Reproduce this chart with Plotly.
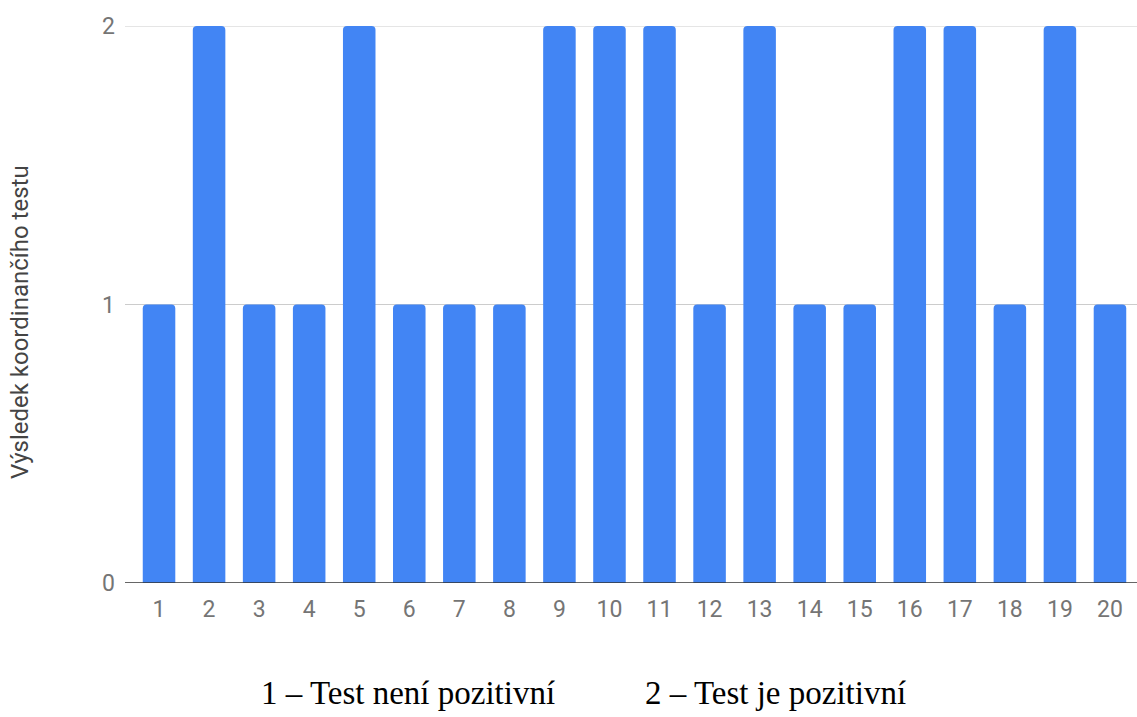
import plotly.graph_objects as go

# Participants and their coordination test result (1 = negative, 2 = positive)
participants = [str(i) for i in range(1, 21)]
results = [1, 2, 1, 1, 2, 1, 1, 1, 2, 2, 2, 1, 2, 1, 1, 2, 2, 1, 2, 1]
y_ticks = [0, 1, 2]
y_title = "Výsledek koordinančího testu"
legend_texts = ["1 – Test není pozitivní", "2 – Test je pozitivní"]

W, H = 1137, 717
ML, MR, MT, MB = 134, 2, 26, 134
plot_w = W - ML - MR
plot_h = H - MT - MB

fig = go.Figure(
    go.Bar(
        x=participants,
        y=results,
        marker=dict(color="#4285F4", line=dict(width=0)),
        hoverinfo="x+y",
    )
)

# Horizontal gridlines and baseline, extending slightly left of the bars
grid_left = (125 - ML) / plot_w
shapes = []
for v in y_ticks:
    shapes.append(
        dict(
            type="line",
            xref="paper",
            yref="y",
            x0=grid_left,
            x1=1.002,
            y0=v,
            y1=v,
            line=dict(color="#333333" if v == 0 else "#cccccc", width=1.5 if v == 0 else 1.2),
            layer="above" if v == 0 else "below",
        )
    )

annotations = [
    dict(
        text=y_title,
        xref="paper",
        yref="paper",
        x=(20 - ML) / plot_w,
        y=1 - (322 - MT) / plot_h,
        xanchor="center",
        yanchor="middle",
        textangle=-90,
        showarrow=False,
        font=dict(family="Roboto", size=24, color="#444444"),
    ),
    dict(
        text=legend_texts[0],
        xref="paper",
        yref="paper",
        x=(407.5 - ML) / plot_w,
        y=-(693 - (H - MB)) / plot_h,
        xanchor="center",
        yanchor="middle",
        showarrow=False,
        font=dict(family="Liberation Serif", size=33, color="#000000"),
    ),
    dict(
        text=legend_texts[1],
        xref="paper",
        yref="paper",
        x=(775.5 - ML) / plot_w,
        y=-(693 - (H - MB)) / plot_h,
        xanchor="center",
        yanchor="middle",
        showarrow=False,
        font=dict(family="Liberation Serif", size=33, color="#000000"),
    ),
]

fig.update_layout(
    width=W,
    height=H,
    margin=dict(l=ML, r=MR, t=MT, b=MB, pad=0),
    paper_bgcolor="white",
    plot_bgcolor="white",
    bargap=0.35,
    barcornerradius=4,
    showlegend=False,
    shapes=shapes,
    annotations=annotations,
    xaxis=dict(
        type="category",
        showgrid=False,
        showline=False,
        zeroline=False,
        ticks="",
        ticklabelstandoff=10,
        tickfont=dict(family="Roboto", size=23, color="#757575"),
        fixedrange=True,
    ),
    yaxis=dict(
        range=[0, 2],
        tickvals=y_ticks,
        showgrid=False,
        showline=False,
        zeroline=False,
        ticks="",
        ticklabelstandoff=18,
        tickfont=dict(family="Roboto", size=23, color="#757575"),
        fixedrange=True,
    ),
)

fig.write_html("out.html", config={"displayModeBar": False})
